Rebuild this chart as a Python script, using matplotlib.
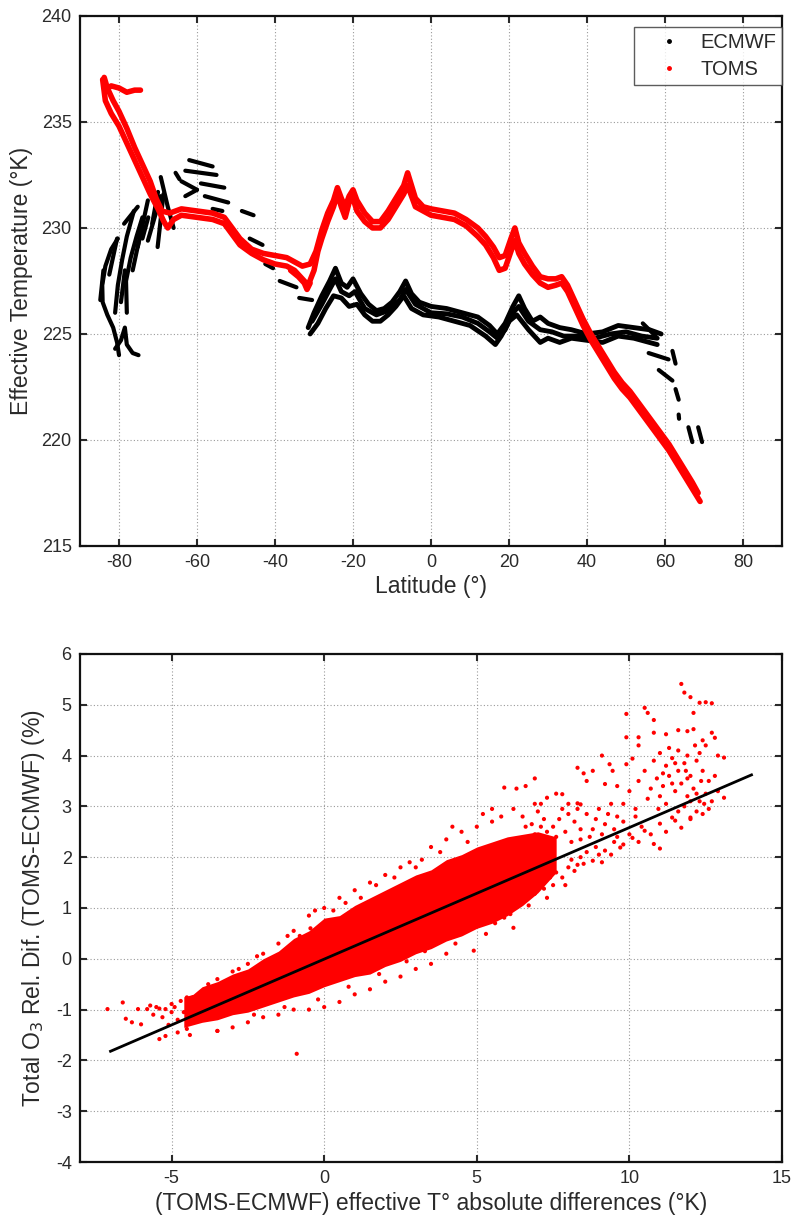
import matplotlib
matplotlib.use("Agg")
import matplotlib.pyplot as plt
from matplotlib.lines import Line2D
import numpy as np

plt.rcParams["font.family"] = ["Liberation Sans", "DejaVu Sans"]
plt.rcParams["axes.unicode_minus"] = False

TXT = "#2a2a2a"
RED = "#ff0000"

# ---- top panel: effective temperature vs latitude (lat, T) ----
toms_a = [(-84.2, 237.0), (-83.5, 236.0), (-82, 235.4), (-80, 234.8), (-78, 234.0), (-76, 233.2),
          (-74, 232.4), (-72, 231.6), (-70, 230.9), (-68.5, 230.3), (-67.5, 230.0), (-66, 230.4),
          (-64, 230.6), (-60, 230.5), (-56, 230.4), (-53, 230.2), (-51, 229.7), (-49, 229.2),
          (-46, 228.8), (-43, 228.5), (-40, 228.3), (-37, 228.2), (-35, 228.0), (-33, 227.6),
          (-31.5, 227.3), (-30, 228.0), (-29, 228.9), (-28, 229.5), (-26.5, 230.3), (-25, 231.0),
          (-24, 231.6), (-23, 231.0), (-22, 230.5), (-21, 231.2), (-20, 231.4), (-19, 230.8),
          (-17, 230.3), (-15, 230.0), (-13, 230.0), (-11, 230.4), (-9, 231.0), (-7, 231.6),
          (-6, 232.0), (-5, 231.5), (-4, 231.0), (-2, 230.8), (0, 230.6), (3, 230.5), (6, 230.4),
          (9, 230.1), (12, 229.6), (14, 229.2), (16, 228.6), (17.5, 228.0), (19, 228.1),
          (20.5, 228.9), (21.5, 229.4), (22.5, 228.8), (24, 228.3), (26, 227.8), (28, 227.4),
          (30, 227.2), (32, 227.3), (33.5, 227.4), (35, 227.0), (37, 226.2), (39, 225.4),
          (41, 224.7), (43, 224.1), (45, 223.5), (47, 222.9), (49, 222.4), (51, 222.0),
          (53, 221.5), (55, 221.0), (57, 220.5), (59, 220.0), (61, 219.5), (63, 218.9),
          (65, 218.3), (67, 217.7), (69, 217.1)]
toms_b = [(-83.8, 237.1), (-83, 236.6), (-81.5, 236.0), (-80, 235.5), (-78, 234.7), (-76, 233.8),
          (-74, 233.0), (-72, 232.2), (-70.5, 231.4), (-69, 230.8), (-67, 230.7), (-64, 230.9),
          (-60, 230.8), (-56, 230.7), (-53, 230.5), (-51, 230.0), (-49, 229.5), (-46, 229.0),
          (-43, 228.8), (-40, 228.7), (-37, 228.6), (-35, 228.4), (-33, 228.2), (-31, 228.3),
          (-29.5, 228.9), (-28, 229.9), (-26.5, 230.7), (-25, 231.3), (-24, 231.9), (-23, 231.4),
          (-22, 231.0), (-21, 231.5), (-20, 231.8), (-19, 231.3), (-17, 230.7), (-15, 230.3),
          (-13, 230.3), (-11, 230.8), (-9, 231.4), (-7, 232.0), (-6, 232.6), (-5, 232.0),
          (-4, 231.4), (-2, 231.0), (0, 230.9), (3, 230.8), (6, 230.7), (9, 230.4), (12, 230.0),
          (14, 229.6), (16, 229.1), (17.5, 228.6), (19, 228.7), (20.5, 229.5), (21.5, 230.0),
          (22.5, 229.3), (24, 228.8), (26, 228.2), (28, 227.7), (30, 227.6), (32, 227.6),
          (33.5, 227.7), (35, 227.3), (37, 226.5), (39, 225.7), (41, 225.0), (43, 224.4),
          (45, 223.8), (47, 223.2), (49, 222.7), (51, 222.3), (53, 221.8), (55, 221.3),
          (57, 220.8), (59, 220.3), (61, 219.8), (63, 219.2), (65, 218.6), (67, 218.0),
          (68.5, 217.5)]
toms_hook = [(-83.5, 236.5), (-82, 236.7), (-80, 236.6), (-78, 236.4), (-76, 236.5), (-74.5, 236.5)]
toms_dip = [(-36, 228.0), (-34, 227.7), (-32.5, 227.4), (-31.8, 227.1), (-31, 227.4)]

ecmwf_upper = [(-31.5, 225.3), (-30, 226.0), (-28, 226.8), (-26, 227.5), (-24.5, 228.1), (-23, 227.4),
               (-21.5, 227.2), (-20, 227.6), (-18, 226.9), (-16, 226.4), (-14, 226.1), (-12, 226.2),
               (-10, 226.5), (-8, 227.0), (-6.5, 227.5), (-5, 226.9), (-3, 226.5), (0, 226.3),
               (4, 226.2), (8, 226.0), (12, 225.8), (15, 225.4), (17, 225.0), (19, 225.5),
               (21, 226.3), (22.5, 226.8), (24, 226.2), (26, 225.6), (28, 225.8), (30, 225.5),
               (33, 225.3), (36, 225.2), (40, 225.0), (44, 225.1), (48, 225.4), (52, 225.3),
               (56, 225.2), (59, 225.0)]
ecmwf_mid = [(-30.5, 225.6), (-28, 226.4), (-26, 227.1), (-24.5, 227.6), (-23, 227.0), (-21, 226.8),
             (-19.5, 227.0), (-17, 226.2), (-14, 225.9), (-11, 226.1), (-8, 226.6), (-6.5, 227.1),
             (-4, 226.4), (0, 226.0), (4, 225.95), (8, 225.8), (12, 225.5), (15, 225.1),
             (17, 224.8), (19, 225.2), (21, 226.0), (22.5, 226.3), (25, 225.6), (28, 225.2),
             (31, 225.1), (34, 224.9), (38, 224.9), (42, 224.8), (46, 225.0), (50, 225.1),
             (54, 224.9), (58, 224.8)]
ecmwf_lower = [(-31, 225.0), (-29, 225.5), (-27, 226.2), (-25, 226.8), (-23, 226.7), (-21, 226.3),
               (-19, 226.4), (-17, 225.9), (-15, 225.6), (-13, 225.6), (-11, 225.9), (-9, 226.3),
               (-7, 226.8), (-5, 226.2), (-2, 225.9), (2, 225.8), (6, 225.6), (10, 225.4),
               (14, 224.9), (16.5, 224.5), (18, 224.9), (20, 225.6), (22, 225.9), (25, 225.2),
               (28, 224.6), (30, 224.8), (33, 224.6), (36, 224.8), (40, 224.7), (44, 224.6),
               (48, 224.9), (52, 224.8), (56, 224.6), (58, 224.5)]
ecmwf_streaks = [
    [(-80.3, 229.5), (-82, 229.0), (-83.5, 228.2), (-84.3, 227.3), (-84.2, 226.5), (-83, 225.9),
     (-81.5, 225.3), (-80.5, 224.6), (-80, 224.0)],
    [(-81, 224.3), (-79.5, 224.7), (-78.5, 225.3), (-78, 224.5), (-76.5, 224.1), (-75, 224.0)],
    [(-81, 226.0), (-80.3, 227.3), (-79.2, 228.5), (-78, 229.6), (-76.2, 230.8)],
    [(-78, 226.0), (-78.2, 227.5), (-77, 228.6), (-75.5, 229.6), (-74, 230.5)],
    [(-84.8, 226.6), (-84.0, 228.0)],
    [(-82.5, 227.8), (-80.5, 229.5)],
    [(-79.5, 226.5), (-78.5, 228.0)],
    [(-76.5, 228.0), (-75, 229.3)],
    [(-74, 229.5), (-72.5, 230.5)],
    [(-71.5, 230.2), (-70, 231.7)],
    [(-78.7, 230.2), (-75.2, 231.0)],
    [(-75.2, 229.1), (-72.6, 231.3)],
    [(-72.6, 229.4), (-69.3, 231.5)],
    [(-70.1, 229.1), (-68.6, 231.6)],
    [(-69.3, 232.4), (-67.5, 231.0), (-66, 230.0)],
    [(-65.5, 232.6), (-64.5, 232.3)],
    [(-62, 233.2), (-56, 232.9)],
    [(-63, 232.7), (-55, 232.5)],
    [(-64, 232.2), (-60, 231.8)],
    [(-59, 232.1), (-53, 231.9)],
    [(-63, 231.5), (-60, 231.8)],
    [(-58, 231.5), (-52, 231.2)],
    [(-56, 230.9), (-53.5, 230.8)],
    [(-48.5, 230.8), (-45.5, 230.6)],
    [(-46.5, 229.5), (-43.2, 229.2)],
    [(-42.5, 228.3), (-40.5, 228.1)],
    [(-38.8, 227.5), (-34.5, 227.2)],
    [(-33.8, 226.7), (-30.5, 226.6)],
    [(54.3, 225.5), (57.6, 224.9)],
    [(55.8, 224.1), (60.9, 223.8)],
    [(61.9, 224.2), (62.7, 223.6)],
    [(58.4, 223.3), (61.9, 222.8)],
    [(62.7, 222.4), (63.5, 221.9)],
    [(63.5, 221.2), (63.6, 221.0)],
    [(66, 220.6), (67, 219.9)],
    [(68.5, 220.6), (69.5, 219.9)],
]

# ---- bottom panel: O3 relative difference vs effective T difference ----
core_x = [-4.6, -4.3, -4, -3.5, -3, -2.5, -2, -1.5, -1, -0.5, 0, 0.5, 1, 1.5, 2, 2.5, 3, 3.5,
          4, 4.5, 5, 5.5, 6, 6.5, 7, 7.6]
core_lo = [-1.35, -1.3, -1.25, -1.2, -1.1, -1.05, -0.95, -0.85, -0.75, -0.68, -0.55, -0.45, -0.35,
           -0.3, -0.15, -0.05, 0.1, 0.2, 0.35, 0.45, 0.6, 0.7, 0.85, 1.05, 1.3, 1.7]
core_hi = [-0.75, -0.7, -0.55, -0.45, -0.3, -0.2, 0.0, 0.15, 0.4, 0.55, 0.8, 0.85, 1.05, 1.2,
           1.35, 1.5, 1.65, 1.75, 1.95, 2.05, 2.2, 2.3, 2.4, 2.45, 2.5, 2.4]

dots_upper_right = [(11.7, 5.41), (11.8, 5.24), (12.0, 5.15), (12.3, 5.04), (12.5, 5.05), (12.7, 5.03),
                    (12.1, 4.84), (10.5, 4.94), (10.6, 4.84), (9.9, 4.82), (10.8, 4.70), (10.3, 4.36),
                    (9.9, 4.36), (10.8, 4.45), (11.2, 4.42), (11.6, 4.50), (11.9, 4.48), (12.1, 4.52),
                    (12.7, 4.45), (12.8, 4.35), (12.4, 4.30), (12.5, 4.20), (12.9, 4.00), (13.1, 3.96),
                    (9.1, 4.00), (9.9, 3.83), (10.1, 3.94), (10.3, 4.20), (8.3, 3.76), (8.5, 3.65),
                    (8.6, 3.50), (8.8, 3.70), (9.35, 3.83), (9.45, 3.70), (9.2, 3.44), (8.0, 3.05),
                    (8.3, 3.06), (8.4, 3.04), (7.6, 3.25), (7.8, 3.24), (7.3, 3.17), (7.1, 3.05),
                    (6.9, 3.05), (13.1, 3.17), (11.5, 2.72), (11.7, 2.58),
                    (10.8, 3.9), (11.0, 4.05), (11.2, 3.8), (11.4, 3.95), (11.6, 3.7), (11.8, 3.85),
                    (12.0, 3.6), (12.2, 3.9), (12.4, 3.7), (10.9, 3.55), (11.1, 3.4), (11.3, 3.6),
                    (11.5, 3.3), (11.7, 3.45), (11.9, 3.2), (12.1, 3.35), (12.3, 3.1), (12.5, 3.25),
                    (12.6, 3.5), (11.0, 3.2), (11.8, 3.0), (12.2, 2.9), (12.0, 2.75), (12.4, 2.85),
                    (12.6, 2.95), (10.5, 3.7), (10.3, 3.5), (10.0, 3.3), (10.6, 3.15), (9.8, 3.05),
                    (10.2, 2.95), (9.6, 3.4), (11.3, 4.15), (11.6, 4.1), (11.9, 4.0), (12.3, 4.05),
                    (11.4, 3.45), (11.9, 3.55), (12.2, 3.25), (11.2, 3.05), (10.7, 3.35), (12.8, 3.6),
                    (12.9, 3.3), (12.7, 3.1), (11.6, 2.9), (12.0, 3.1), (11.1, 3.65), (11.5, 3.85),
                    (12.35, 3.5), (11.85, 3.7), (10.95, 2.95), (12.45, 3.05), (12.15, 4.2)]
dots_mid = [(8.2, 2.7), (8.6, 2.85), (9.0, 2.95), (9.4, 3.05), (8.8, 2.55), (9.2, 2.65), (9.6, 2.8),
            (7.5, 2.6), (7.9, 2.5), (8.4, 2.35), (7.2, 2.75), (6.8, 2.65), (7.0, 2.9), (6.5, 2.8),
            (6.2, 2.95), (5.9, 3.37), (6.3, 3.35), (6.6, 3.40), (6.9, 3.55), (8.0, 2.85),
            (8.4, 2.55), (8.9, 2.75), (9.3, 2.85), (9.8, 2.7), (10.2, 2.8), (7.7, 2.75),
            (7.3, 2.5), (6.6, 2.6), (5.8, 2.8), (5.5, 2.95), (8.1, 2.3), (8.7, 2.4), (9.5, 2.55),
            (7.1, 2.6), (7.6, 2.4), (6.9, 2.45), (8.3, 2.95), (9.1, 2.45), (7.8, 2.95)]
dots_lower_branch = [(7.8, 1.60), (8.2, 1.73), (8.5, 1.87), (8.8, 1.93), (9.2, 2.13), (9.7, 2.19),
                     (10.1, 2.38), (10.5, 2.52), (11.0, 2.66), (11.4, 2.78), (12.0, 2.78), (10.8, 2.26),
                     (11.0, 2.17), (7.5, 1.45), (7.2, 1.38), (6.9, 1.28), (7.0, 1.5), (7.6, 1.7),
                     (8.0, 1.8), (8.4, 2.0), (9.0, 2.05), (9.5, 2.3), (10.0, 2.45), (9.8, 2.25),
                     (8.1, 1.95), (8.6, 2.1), (9.1, 1.9), (9.4, 2.05), (7.9, 1.45), (7.3, 1.2),
                     (6.7, 1.05), (6.5, 1.2), (10.3, 2.3), (10.7, 2.45), (11.2, 2.5), (7.4, 1.6),
                     (8.3, 1.85), (8.9, 2.2), (9.6, 2.4), (10.4, 2.6)]
dots_fringe = [(3.5, 2.2), (4.0, 2.35), (4.5, 2.5), (5.0, 2.6), (5.5, 2.7), (5.2, 2.85), (4.2, 2.6),
               (3.2, 1.95), (2.5, 1.8), (2.0, 1.65), (1.5, 1.5), (1.0, 1.35), (0.5, 1.2), (0.0, 1.0),
               (-0.5, 0.85), (-0.45, 0.6), (-1.0, 0.55), (-1.5, 0.3), (-2.0, 0.1), (-2.5, -0.1),
               (-3.0, -0.25), (-3.5, -0.4), (4.5, 0.49), (4.9, 0.16), (5.3, 0.49), (5.9, 0.81),
               (6.2, 0.61), (6.1, 0.88), (4.0, 0.1), (3.5, -0.1), (3.0, -0.2), (2.5, -0.35),
               (2.0, -0.45), (1.5, -0.6), (1.0, -0.7), (0.5, -0.85), (0.0, -0.95), (-0.5, -1.0),
               (-1.0, -1.0), (-1.5, -1.1), (-2.0, -1.15), (-2.5, -1.25), (-3.0, -1.35), (-3.5, -1.42),
               (2.8, 1.9), (3.8, 2.1), (1.2, 1.2), (0.3, 0.95), (-0.8, 0.45), (-2.8, -0.2),
               (-3.8, -0.5), (1.8, -0.3), (2.7, -0.05), (3.3, 0.15), (0.8, -0.55), (-0.2, -0.8),
               (-1.3, -0.95), (-2.3, -1.1), (5.6, 0.7), (4.3, 0.3), (1.7, 1.45), (2.3, 1.6),
               (3.0, 1.8), (4.7, 2.3), (0.7, 1.1), (-0.3, 0.95), (-1.2, 0.45), (-2.2, 0.05)]
dots_left = [(-7.1, -0.99), (-6.6, -0.86), (-6.5, -1.18), (-6.3, -1.25), (-6.0, -1.29), (-6.1, -0.99),
             (-5.8, -0.99), (-5.5, -0.95), (-5.2, -0.99), (-5.0, -0.89), (-4.7, -0.83), (-4.5, -0.76),
             (-4.3, -0.76), (-5.4, -1.58), (-5.2, -1.52), (-4.8, -1.45), (-4.5, -1.38), (-4.4, -1.50),
             (-3.5, -1.42), (-0.9, -1.87), (-5.6, -1.1), (-5.3, -1.15), (-5.0, -1.05), (-4.8, -1.2),
             (-5.7, -0.92), (-5.4, -0.98), (-4.9, -0.95), (-4.6, -1.05), (-5.1, -1.3)]

fit_x = [-7.0, 14.0]
fit_y = [-1.82, 3.62]


def style_axes(ax):
    ax.grid(True, color="#9a9a9a", linestyle=(0, (1, 2)), linewidth=0.8)
    ax.set_axisbelow(True)
    ax.tick_params(direction="in", length=5, width=1.5, top=True, right=True,
                   labelsize=13, colors=TXT, pad=6)
    for sp in ax.spines.values():
        sp.set_linewidth(1.6)
        sp.set_color("#111111")


def xy(pairs):
    a = np.array(pairs)
    return a[:, 0], a[:, 1]


fig = plt.figure(figsize=(8.01, 12.16), dpi=100)
ax1 = fig.add_axes([0.0999, 0.551, 0.8764, 0.4359])
ax2 = fig.add_axes([0.0999, 0.0444, 0.8764, 0.4178])

# top panel
for s in ecmwf_streaks:
    x, y = xy(s)
    ax1.plot(x, y, "-", color="black", lw=3.0, solid_capstyle="round")
for tr in (ecmwf_upper, ecmwf_mid, ecmwf_lower):
    x, y = xy(tr)
    ax1.plot(x, y, "-", color="black", lw=3.5, solid_capstyle="round")
for tr in (toms_a, toms_b, toms_hook, toms_dip):
    x, y = xy(tr)
    ax1.plot(x, y, "-", color=RED, lw=4.0, solid_capstyle="round")

ax1.set_xlim(-90, 90)
ax1.set_ylim(215, 240)
ax1.set_xticks(np.arange(-80, 81, 20))
ax1.set_yticks(np.arange(215, 241, 5))
style_axes(ax1)
ax1.set_xlabel("Latitude (°)", fontsize=16.5, color=TXT, labelpad=3)
ax1.set_ylabel("Effective Temperature (°K)", fontsize=16.5, color=TXT, labelpad=6)
handles = [Line2D([], [], ls="none", marker=".", color="black", ms=5),
           Line2D([], [], ls="none", marker=".", color=RED, ms=5)]
leg = ax1.legend(handles, ["ECMWF", "TOMS"], loc="upper right", fontsize=14.5, frameon=True,
                 fancybox=False, edgecolor="#333333", borderpad=0.3, handlelength=2.9,
                 handletextpad=0.1, labelspacing=0.4, bbox_to_anchor=(1.0, 0.979),
                 borderaxespad=0)
leg.get_frame().set_linewidth(1.0)
for t in leg.get_texts():
    t.set_color(TXT)

# bottom panel
ax2.fill_between(core_x, core_lo, core_hi, color=RED, lw=0)
for grp in (dots_upper_right, dots_mid, dots_lower_branch, dots_fringe, dots_left):
    x, y = xy(grp)
    ax2.scatter(x, y, s=9, color=RED, edgecolors="none")
ax2.plot(fit_x, fit_y, "-", color="black", lw=2.0)

ax2.set_xlim(-8, 15)
ax2.set_ylim(-4, 6)
ax2.set_xticks([-5, 0, 5, 10, 15])
ax2.set_yticks(np.arange(-4, 7, 1))
style_axes(ax2)
ax2.set_xlabel("(TOMS-ECMWF) effective T° absolute differences (°K)", fontsize=16.5, color=TXT,
               labelpad=3)
ax2.set_ylabel("Total O$_3$ Rel. Dif. (TOMS-ECMWF) (%)", fontsize=16.5, color=TXT, labelpad=6)

fig.savefig("out.png", dpi=100)
